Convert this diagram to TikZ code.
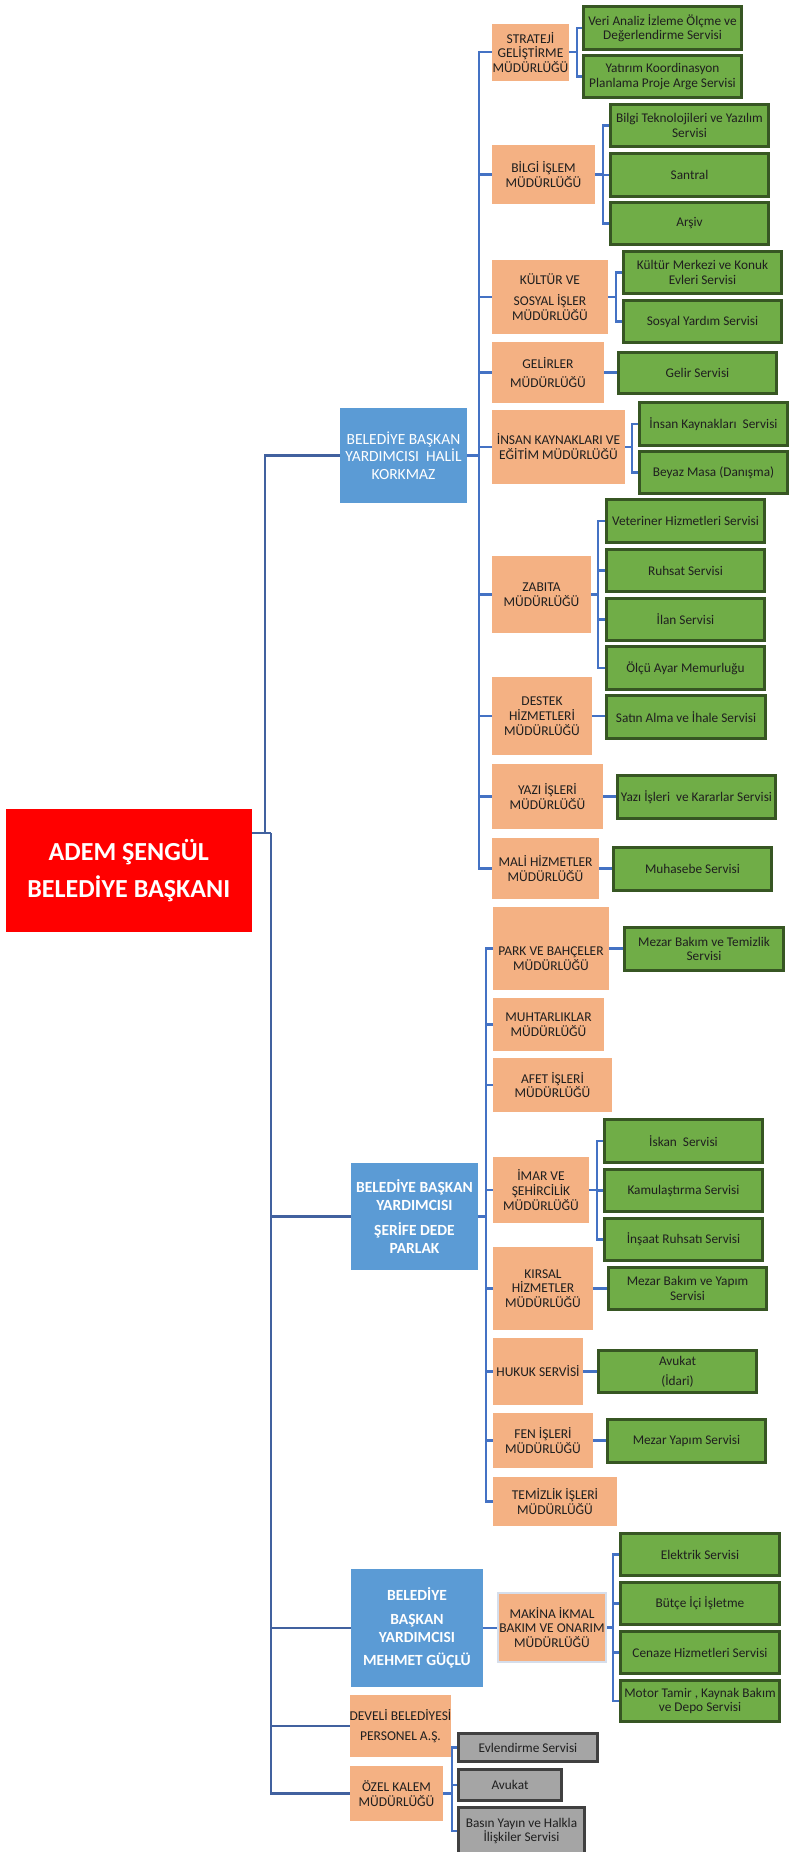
\documentclass[tikz,border=0pt]{standalone}
\usepackage{fontspec}
\setmainfont{Carlito}
\usetikzlibrary{calc,backgrounds}
\definecolor{orng}{HTML}{F4B183}
\definecolor{grn}{HTML}{70AD47}
\definecolor{grnd}{HTML}{375623}
\definecolor{blu}{HTML}{5B9BD5}
\definecolor{lnk}{HTML}{4472C4}
\definecolor{lnkd}{HTML}{41619F}
\definecolor{gry}{HTML}{A5A5A5}
\definecolor{gryd}{HTML}{404040}
\definecolor{txt}{HTML}{1F1F1F}
\definecolor{mkb}{HTML}{D6DEEB}
\tikzset{
 box/.style={rectangle, inner sep=0pt, outer sep=0pt},
 orgbox/.style={box, fill=orng},
 orgt/.style={align=center, inner sep=0pt, text=txt, font=\fontsize{13.5}{14.7}\selectfont},
 mkbox/.style={box, fill=orng, draw=mkb, line width=1.5pt},
 mkt/.style={orgt},
 grnbox/.style={box, fill=grn, draw=grnd, line width=2.8pt},
 grnt/.style={align=center, inner sep=0pt, text=txt, font=\fontsize{13.3}{14.3}\selectfont},
 blubox/.style={box, fill=blu},
 blut/.style={align=center, inner sep=0pt, text=white, font=\fontsize{15.5}{17.3}\selectfont},
 blbbox/.style={box, fill=blu},
 blbt/.style={align=center, inner sep=0pt, text=white, font=\bfseries\fontsize{15.5}{18}\selectfont},
 grybox/.style={box, fill=gry, draw=gryd, line width=2.8pt},
 gryt/.style={grnt},
 redbox/.style={box, fill=red},
 redt/.style={align=center, inner sep=0pt, text=white, font=\bfseries\fontsize{26}{36.5}\selectfont},
 link/.style={draw=lnk, line width=2.3pt},
 mainlink/.style={draw=lnkd, line width=2.3pt},
}
% plain box: outer coords
\newcommand{\bx}[8][0]{%
 \node[#3box, minimum width={#6-#4}, minimum height={#7-#5}] (#2) at ({(#4+#6)/2},{(#5+#7)/2}) {};
 \node[#3t] (#2t) at ($(#2.center)+(0,#1)$) {#8};}
% stroked box: outer coords, inset by stroke
\newcommand{\dbx}[8][0]{%
 \node[#3box, minimum width={#6-#4-2.8}, minimum height={#7-#5-2.8}] (#2) at ({(#4+#6)/2},{(#5+#7)/2}) {};
 \node[#3t] (#2t) at ($(#2.center)+(0,#1)$) {#8};}
% bracket: parent, x of vertical, children
\newcommand{\brk}[3]{%
 \coordinate (#1x) at (#2,0);
 \coordinate (#1j) at (#1.east -| #1x);
 \draw[link] (#1.east) -- (#1j);
 \foreach \c in {#3} {\draw[link] (#1j) |- (\c.west);}}
\newcommand{\one}[2]{\draw[link] (#1.east) -- (#1.east -| #2.west);}
\begin{document}
\begin{tikzpicture}[x=1pt,y=-1pt]
\useasboundingbox (0,0) rectangle (790,1852);
\begin{pgfonlayer}{background}
\fill[white] (0,0) rectangle (790,1852);
\end{pgfonlayer}
% ---------- top ----------
\bx{red}{red}{6}{809}{251.5}{932}{ADEM ŞENGÜL\\BELEDİYE BAŞKANI}
% ---------- Halil ----------
\bx{halil}{blu}{340}{408}{467}{503}{BELEDİYE BAŞKAN\\YARDIMCISI\ \ HALİL\\KORKMAZ}
\bx{strat}{org}{492}{24}{569}{80.7}{STRATEJİ\\GELİŞTİRME\\MÜDÜRLÜĞÜ}
\dbx{v1}{grn}{582}{5}{743}{51}{Veri Analiz İzleme Ölçme ve\\Değerlendirme Servisi}
\dbx{v2}{grn}{582}{54}{743}{99}{Yatırım Koordinasyon\\Planlama Proje Arge Servisi}
\bx{bilgi}{org}{492}{145}{595}{204}{BİLGİ İŞLEM\\MÜDÜRLÜĞÜ}
\dbx{b1}{grn}{609}{103}{770}{148}{Bilgi Teknolojileri ve Yazılım\\Servisi}
\dbx{b2}{grn}{609}{152}{770}{198}{Santral}
\dbx{b3}{grn}{609}{201}{770}{246}{Arşiv}
\bx{kultur}{org}{492}{260}{608}{334}{KÜLTÜR VE\\[6pt]SOSYAL İŞLER\\MÜDÜRLÜĞÜ}
\dbx{k1}{grn}{622}{250}{783}{295}{Kültür Merkezi ve Konuk\\Evleri Servisi}
\dbx{k2}{grn}{622}{299}{783}{344}{Sosyal Yardım Servisi}
\bx{gelir}{org}{492}{342}{604}{403}{GELİRLER\\[5pt]MÜDÜRLÜĞÜ}
\dbx{g1}{grn}{617}{351}{778}{395}{Gelir Servisi}
\bx{insan}{org}{492}{410}{625}{483.7}{İNSAN KAYNAKLARI VE\\EĞİTİM MÜDÜRLÜĞÜ}
\dbx{i1}{grn}{638}{401}{789}{447}{İnsan Kaynakları\ \ Servisi}
\dbx{i2}{grn}{638}{450}{789}{495}{Beyaz Masa (Danışma)}
\bx{zabita}{org}{492}{556}{591}{633}{ZABITA\\MÜDÜRLÜĞÜ}
\dbx{z1}{grn}{605}{498}{766}{544}{Veteriner Hizmetleri Servisi}
\dbx{z2}{grn}{605}{548}{766}{593}{Ruhsat Servisi}
\dbx{z3}{grn}{605}{597}{766}{642}{İlan Servisi}
\dbx{z4}{grn}{605}{645}{766}{691}{Ölçü Ayar Memurluğu}
\bx{destek}{org}{492}{677}{592}{755}{DESTEK\\HİZMETLERİ\\MÜDÜRLÜĞÜ}
\dbx{d1}{grn}{605}{694}{767}{740}{Satın Alma ve İhale Servisi}
\bx{yazi}{org}{492}{764}{603}{829}{YAZI İŞLERİ\\MÜDÜRLÜĞÜ}
\dbx{y1}{grn}{616}{774}{777}{820}{Yazı İşleri\ \ ve Kararlar Servisi}
\bx{mali}{org}{492}{838}{599}{899}{MALİ HİZMETLER\\MÜDÜRLÜĞÜ}
\dbx{m1}{grn}{612}{846}{773}{892}{Muhasebe Servisi}
% ---------- Serife ----------
\bx{serife}{blb}{351}{1163}{478}{1270}{BELEDİYE BAŞKAN\\YARDIMCISI\\[7pt]ŞERİFE DEDE\\PARLAK}
\bx[10]{park}{org}{493}{907}{609}{990}{PARK VE BAHÇELER\\MÜDÜRLÜĞÜ}
\dbx{p1}{grn}{623}{926}{785}{972}{Mezar Bakım ve Temizlik\\Servisi}
\bx{muhtar}{org}{493}{998}{604}{1051}{MUHTARLIKLAR\\MÜDÜRLÜĞÜ}
\bx{afet}{org}{493}{1058}{612}{1112}{AFET İŞLERİ\\MÜDÜRLÜĞÜ}
\bx{imar}{org}{493}{1157}{589}{1223}{İMAR VE\\ŞEHİRCİLİK\\MÜDÜRLÜĞÜ}
\dbx{im1}{grn}{603}{1118}{764}{1164}{İskan\ \ Servisi}
\dbx{im2}{grn}{603}{1168}{764}{1213}{Kamulaştırma Servisi}
\dbx{im3}{grn}{603}{1217}{764}{1262}{İnşaat Ruhsatı Servisi}
\bx{kirsal}{org}{493}{1247}{593}{1330}{KIRSAL\\HİZMETLER\\MÜDÜRLÜĞÜ}
\dbx{kr1}{grn}{607}{1266}{768}{1311}{Mezar Bakım ve Yapım\\Servisi}
\bx{hukuk}{org}{493}{1338}{583}{1405}{HUKUK SERVİSİ}
\dbx{h1}{grn}{597}{1349}{758}{1394}{Avukat\\[6pt](İdari)}
\bx{fen}{org}{493}{1413}{593}{1468}{FEN İŞLERİ\\MÜDÜRLÜĞÜ}
\dbx{f1}{grn}{606}{1418}{767}{1464}{Mezar Yapım Servisi}
\bx{temiz}{org}{493}{1477}{617}{1526}{TEMİZLİK İŞLERİ\\MÜDÜRLÜĞÜ}
% ---------- Mehmet ----------
\bx{mehmet}{blb}{351}{1569}{483}{1687}{BELEDİYE\\[6pt]BAŞKAN\\YARDIMCISI\\[5pt]MEHMET GÜÇLÜ}
\bx{makina}{mk}{498}{1593}{606}{1662}{MAKİNA İKMAL\\BAKIM VE ONARIM\\MÜDÜRLÜĞÜ}
\dbx{mk1}{grn}{619}{1532}{781}{1577}{Elektrik Servisi}
\dbx{mk2}{grn}{619}{1581}{781}{1626}{Bütçe İçi İşletme}
\dbx{mk3}{grn}{619}{1630}{781}{1675}{Cenaze Hizmetleri Servisi}
\dbx{mk4}{grn}{619}{1679}{781}{1723}{Motor Tamir , Kaynak Bakım\\ve Depo Servisi}
% ---------- others ----------
\bx{develi}{org}{350}{1695}{451}{1757}{DEVELİ BELEDİYESİ\\[6pt]PERSONEL A.Ş.}
\bx{ozel}{org}{350}{1766}{443}{1821}{ÖZEL KALEM\\MÜDÜRLÜĞÜ}
\dbx{evl}{gry}{457}{1732}{599}{1763}{Evlendirme Servisi}
\dbx{avk}{gry}{457}{1768}{563}{1802}{Avukat}
\dbx{basin}{gry}{457}{1806}{586}{1856}{Basın Yayın ve Halkla\\İlişkiler Servisi}
% ---------- connectors ----------
\begin{pgfonlayer}{background}
\coordinate (rj) at (270.7,833.3);
\coordinate (ru) at (265,833.3);
\draw[mainlink] (rj -| red.east) -- (rj);
\foreach \c in {serife,mehmet,develi,ozel} {\draw[mainlink] (rj) |- (\c.west);}
\draw[mainlink] (ru) |- (halil.west);
\brk{halil}{479}{strat,bilgi,kultur,gelir,insan,zabita,destek,yazi,mali}
\brk{strat}{576.7}{v1,v2}
\brk{bilgi}{602.7}{b1,b2,b3}
\brk{kultur}{615.7}{k1,k2}
\one{gelir}{g1}
\brk{insan}{631.7}{i1,i2}
\brk{zabita}{598.3}{z1,z2,z3,z4}
\one{destek}{d1}
\one{yazi}{y1}
\one{mali}{m1}
\brk{serife}{486}{park,muhtar,afet,imar,kirsal,hukuk,fen,temiz}
\one{park}{p1}
\brk{imar}{596.7}{im1,im2,im3}
\one{kirsal}{kr1}
\one{hukuk}{h1}
\one{fen}{f1}
\one{mehmet}{makina}
\brk{makina}{613.3}{mk1,mk2,mk3,mk4}
\brk{ozel}{451.7}{evl,avk,basin}
\end{pgfonlayer}
\end{tikzpicture}
\end{document}
